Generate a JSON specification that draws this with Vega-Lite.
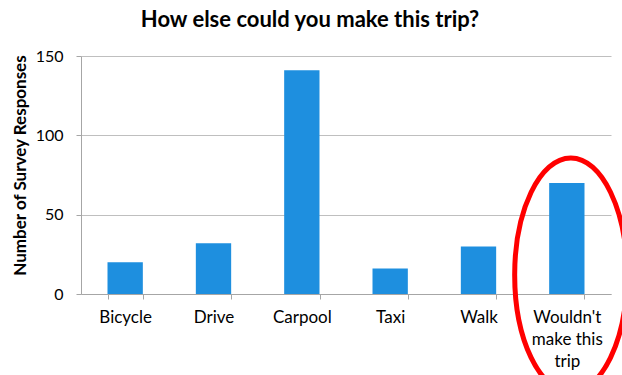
{
  "$schema": "https://vega.github.io/schema/vega-lite/v6.json",
  "autosize": {"type": "none"},
  "padding": {"left": 81, "top": 56, "right": 11, "bottom": 81},
  "width": 530,
  "height": 238,
  "background": "white",
  "title": {
    "text": "How else could you make this trip?",
    "font": "Lato",
    "fontSize": 22,
    "fontWeight": "bold",
    "color": "#000000",
    "anchor": "middle",
    "dx": -36,
    "offset": 16
  },
  "config": {
    "view": {"stroke": null},
    "font": "Lato"
  },
  "layer": [
    {
      "data": {
        "values": [
          {"mode": "Bicycle", "responses": 20},
          {"mode": "Drive", "responses": 32},
          {"mode": "Carpool", "responses": 141},
          {"mode": "Taxi", "responses": 16},
          {"mode": "Walk", "responses": 30},
          {"mode": "Wouldn't make this trip", "responses": 70}
        ]
      },
      "mark": {"type": "bar", "color": "#1e8fdf"},
      "encoding": {
        "x": {
          "field": "mode",
          "type": "nominal",
          "sort": null,
          "scale": {"paddingInner": 0.6, "paddingOuter": 0.3},
          "axis": {
            "title": null,
            "labelAngle": 0,
            "labelFont": "Lato",
            "labelFontSize": 17,
            "labelColor": "#000000",
            "labelPadding": 10,
            "labelLineHeight": 22,
            "labelExpr": "datum.label == 'Wouldn\\'t make this trip' ? ['Wouldn\\'t', 'make this', 'trip'] : datum.label",
            "tickBand": "extent",
            "tickSize": 5,
            "tickColor": "#a6a6a6",
            "domainColor": "#a6a6a6",
            "grid": false
          }
        },
        "y": {
          "field": "responses",
          "type": "quantitative",
          "scale": {"domain": [0, 150], "nice": false},
          "axis": {
            "title": "Number of Survey Responses",
            "titleFont": "Lato",
            "titleFontSize": 17,
            "titleFontWeight": "bold",
            "titleColor": "#000000",
            "titleBaseline": "middle",
            "titleX": -61,
            "titleY": 109,
            "values": [0, 50, 100, 150],
            "labelFont": "Lato",
            "labelFontSize": 16,
            "labelColor": "#000000",
            "labelPadding": 13,
            "tickSize": 5,
            "tickColor": "#a6a6a6",
            "domainColor": "#a6a6a6",
            "grid": true,
            "gridColor": "#bfbfbf"
          }
        }
      }
    },
    {
      "data": {"values": [{"mode": "Wouldn't make this trip", "center": 12}]},
      "mark": {
        "type": "point",
        "shape": "M -0.48 0 A 0.48 1 0 1 0 0.48 0 A 0.48 1 0 1 0 -0.48 0 Z",
        "filled": false,
        "stroke": "#ff0000",
        "strokeWidth": 5,
        "opacity": 1,
        "size": 54756,
        "xOffset": 4
      },
      "encoding": {
        "x": {"field": "mode", "type": "nominal", "sort": null},
        "y": {"field": "center", "type": "quantitative"}
      }
    }
  ]
}
